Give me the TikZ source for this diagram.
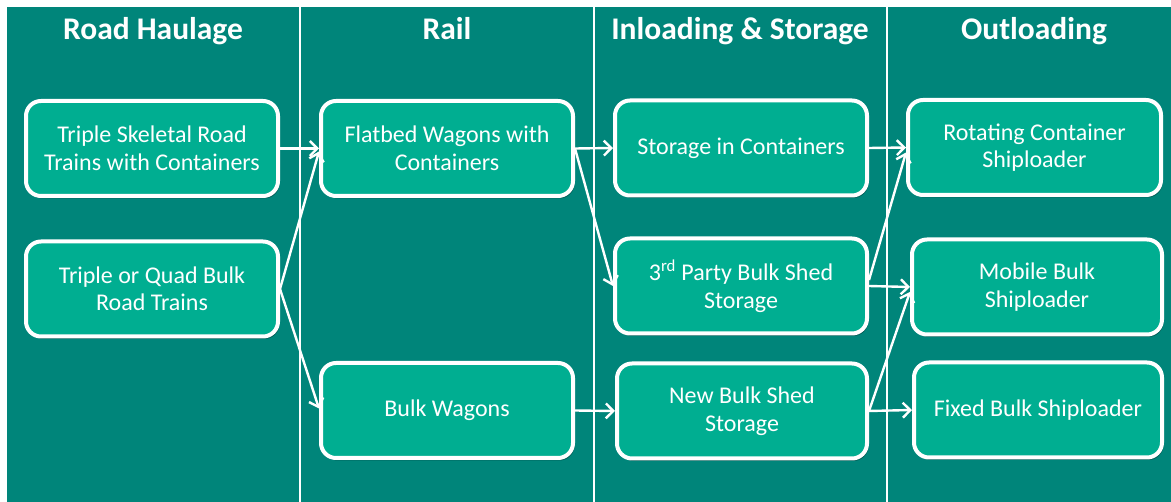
\documentclass[tikz,border=0pt]{standalone}
\usepackage{fontspec}
\setmainfont{Carlito}
\usetikzlibrary{arrows.meta,shadows}
\definecolor{bgteal}{RGB}{0,133,122}
\definecolor{boxteal}{RGB}{0,174,145}
\begin{document}
\begin{tikzpicture}[x=1pt,y=-1pt,
  box/.style={draw=white, line width=4pt, fill=boxteal, rounded corners=15pt,
    minimum width=252pt, minimum height=95pt, align=center, text=white,
    font=\fontsize{24}{27.5}\selectfont,
    drop shadow={shadow xshift=1.5pt, shadow yshift=-2.5pt, opacity=0.3, fill=black}},
  head/.style={text=white, anchor=base, font=\fontsize{31.5}{34}\selectfont\bfseries},
  arr/.style={draw=white, line width=2.4pt, -{Straight Barb[length=7.5pt,width=15pt]}},
  divider/.style={draw=white, line width=1.2pt}]
\useasboundingbox (0,0) rectangle (1171,502);
\fill[white] (0,0) rectangle (1171,502);
\fill[bgteal] (7,7) rectangle (1171,502);
\draw[divider] (300,7) -- (300,502);
\draw[divider] (594,7) -- (594,502);
\draw[divider] (887,7) -- (887,502);

\node[head] (h1) at (153,40) {Road Haulage};
\node[head] (h2) at (447,40) {Rail};
\node[head] (h3) at (740,40) {Inloading \& Storage};
\node[head] (h4) at (1034,40) {Outloading};

\node[box] (A1) at (152,148.5) {Triple Skeletal Road\\Trains with Containers};
\node[box] (A2) at (152,289) {Triple or Quad Bulk\\Road Trains};
\node[box] (B1) at (447,148.5) {Flatbed Wagons with\\Containers};
\node[box] (B2) at (447,410.5) {Bulk Wagons};
\node[box] (C1) at (741,148) {Storage in Containers};
\node[box] (C2) at (741,286) {3\textsuperscript{rd} Party Bulk Shed\\Storage};
\node[box,minimum width=250pt] (C3) at (742,411) {New Bulk Shed\\Storage};
\node[box,minimum width=253pt] (D1) at (1034.5,147.5) {Rotating Container\\Shiploader};
\node[box,minimum width=250pt] (D2) at (1037,287) {Mobile Bulk\\Shiploader};
\node[box,minimum width=248pt] (D3) at (1038,410) {Fixed Bulk Shiploader};

\draw[arr] (A1.east) -- (B1.west);
\draw[arr] (A2.east) -- ([yshift=-3pt]B1.west);
\draw[arr] (A2.east) -- ([yshift=2pt]B2.west);
\draw[arr] (B1.east) -- (C1.west);
\draw[arr] (B1.east) -- (C2.west);
\draw[arr] (B2.east) -- (C3.west);
\draw[arr] (C1.east) -- (D1.west);
\draw[arr] ([yshift=6pt]C2.east) -- ([yshift=-5pt]D1.west);
\draw[arr] (C2.east) -- (D2.west);
\draw[arr] (C3.east) -- ([yshift=-5pt]D2.west);
\draw[arr] (C3.east) -- (D3.west);
\end{tikzpicture}
\end{document}
